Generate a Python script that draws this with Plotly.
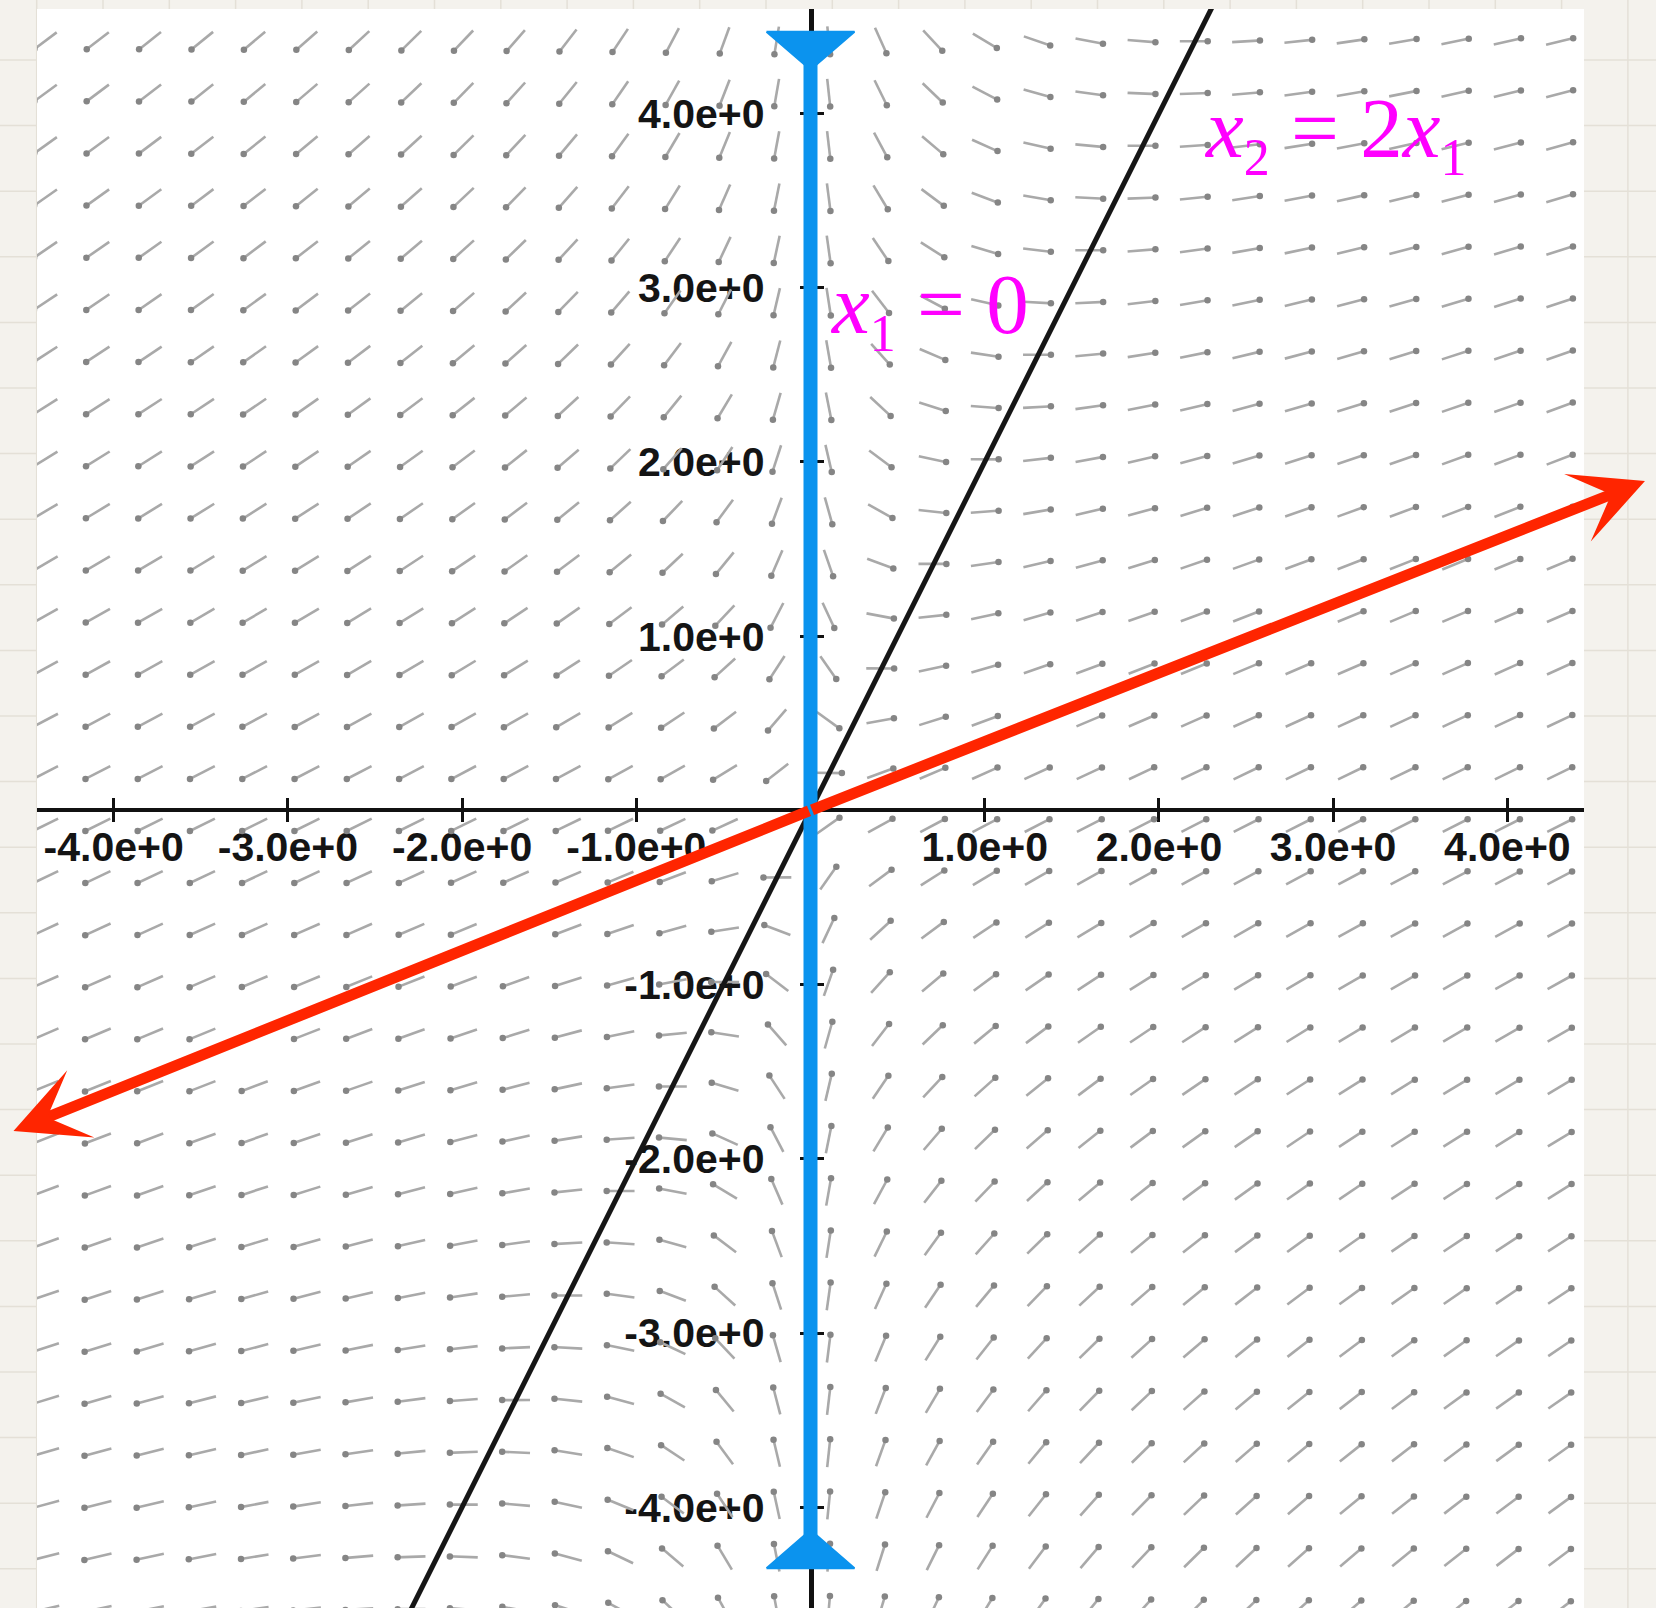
import math
import numpy as np
import plotly.graph_objects as go

# ---------------- data ----------------
# linear system x' = A x behind the direction field
# (nullclines x1 = 0 and x2 = 2 x1, unstable eigen-direction (5, 2))
A = [[4.0, 0.0],
     [2.0, -1.0]]

# direction-field grid (arrow centres)
field_x0, field_y0, field_step, field_n = 0.105, 0.215, 0.3, 16
arrow_len = 0.17

tick_vals = [-4, -3, -2, -1, 1, 2, 3, 4]
x_tick_text = ["-4.0e+0", "-3.0e+0", "-2.0e+0", "-1.0e+0", "1.0e+0", "2.0e+0", "3.0e+0", "4.0e+0"]
y_tick_text = ["-4.0e+0", "-3.0e+0", "-2.0e+0", "-1.0e+0", "1.0e+0", "2.0e+0", "3.0e+0", "4.0e+0"]

# nullcline x2 = 2 x1 (black)
null2_x = [-2.4, 2.4]
null2_y = [-4.8, 4.8]

# nullcline x1 = 0 (blue) with end arrowheads
null1_x = [0.0, 0.0]
null1_y = [4.47, -4.35]

# eigen-direction (red double arrow), tips
red_tip_right = (4.79, 1.89)
red_tip_left = (-4.575, -1.84)

# labels
label1_text = "<i>x</i><sub><span style='font-size:52px'>1</span></sub> = 0"
label1_pos = (0.10, 2.56)
label2_text = ("<i>x</i><sub><span style='font-size:52px'>2</span></sub> = "
               "2<i>x</i><sub><span style='font-size:52px'>1</span></sub>")
label2_pos = (2.25, 3.57)

# ---------------- layout constants ----------------
W, H = 1656, 1608
ML, MR, MT, MB = 37, 72, 9, 0
x_range = [-4.44, 4.44]
pw, ph = W - ML - MR, H - MT - MB
ppu = pw / (x_range[1] - x_range[0])
y_top = 4.60
y_range = [y_top - ph / ppu, y_top]

x_axis_pos = (0 - y_range[0]) / (y_range[1] - y_range[0])
y_axis_pos = (0 - x_range[0]) / (x_range[1] - x_range[0])

fig = go.Figure()

# ---------------- direction field ----------------
Am = np.array(A)
seg_x, seg_y, head_x, head_y = [], [], [], []
for i in range(-field_n, field_n):
    for j in range(-field_n, field_n):
        cx = field_x0 + field_step * i
        cy = field_y0 + field_step * j
        v = Am @ np.array([cx, cy])
        n = np.hypot(*v)
        if n == 0:
            continue
        ux, uy = v / n
        tx, ty = cx - ux * arrow_len / 2, cy - uy * arrow_len / 2
        hx, hy = cx + ux * arrow_len / 2, cy + uy * arrow_len / 2
        seg_x += [tx, hx, None]
        seg_y += [ty, hy, None]
        head_x.append(hx - ux * 0.01)
        head_y.append(hy - uy * 0.01)

fig.add_trace(go.Scatter(x=seg_x, y=seg_y, mode="lines",
                         line=dict(color="#a9a9a9", width=2.6),
                         hoverinfo="skip", showlegend=False))
fig.add_trace(go.Scatter(x=head_x, y=head_y, mode="markers",
                         marker=dict(symbol="circle", size=6.5, color="#858585",
                                     line=dict(width=0)),
                         hoverinfo="skip", showlegend=False))

# black nullcline
fig.add_trace(go.Scatter(x=null2_x, y=null2_y, mode="lines",
                         line=dict(color="#161616", width=5),
                         hoverinfo="skip", showlegend=False))

# blue nullcline with arrowheads (tips pointing toward the origin)
blue = "#0b93ee"
fig.add_trace(go.Scatter(x=null1_x, y=null1_y, mode="lines",
                         line=dict(color=blue, width=14),
                         hoverinfo="skip", showlegend=False))
hw, hh = 44 / ppu, 38 / ppu
top, bot = null1_y[0], null1_y[1]
fig.add_trace(go.Scatter(x=[null1_x[0] - hw, null1_x[0] + hw, null1_x[0], null1_x[0] - hw],
                         y=[top, top, top - hh, top],
                         mode="lines", fill="toself", fillcolor=blue,
                         line=dict(color=blue, width=2),
                         hoverinfo="skip", showlegend=False))
fig.add_trace(go.Scatter(x=[null1_x[1] - hw, null1_x[1] + hw, null1_x[1], null1_x[1] - hw],
                         y=[bot, bot, bot + hh, bot],
                         mode="lines", fill="toself", fillcolor=blue,
                         line=dict(color=blue, width=2),
                         hoverinfo="skip", showlegend=False))

# dummy trace for the overlay axes (crossing tick marks)
fig.add_trace(go.Scatter(x=[None], y=[None], xaxis="x2", yaxis="y2",
                         showlegend=False, hoverinfo="skip"))

# ---------------- annotations ----------------
red = "#ff2500"
annotations = []
for tip in (red_tip_right, red_tip_left):
    annotations.append(dict(x=tip[0], y=tip[1], ax=0, ay=0, xref="x", yref="y",
                            axref="x", ayref="y", text="", showarrow=True,
                            arrowhead=3, arrowsize=1.1, arrowwidth=11,
                            arrowcolor=red, standoff=0, startstandoff=0))
mag_font = dict(family="Liberation Serif, Times New Roman, serif", size=85, color="#ff00ff")
annotations.append(dict(x=label1_pos[0], y=label1_pos[1], xref="x", yref="y",
                        text=label1_text, showarrow=False, xanchor="left",
                        yanchor="bottom", font=mag_font))
annotations.append(dict(x=label2_pos[0], y=label2_pos[1], xref="x", yref="y",
                        text=label2_text, showarrow=False, xanchor="left",
                        yanchor="bottom", font=mag_font))

# ---------------- background paper grid ----------------
shapes = []
def px2paper_x(px):
    return (px - ML) / pw
def py2paper_y(py):
    return (H - MB - py) / ph
grid_col = "#e4e0d7"
for k in range(-1, 26):
    py = 60 + 65.6 * k
    shapes.append(dict(type="line", xref="paper", yref="paper",
                       x0=px2paper_x(0), x1=px2paper_x(W), y0=py2paper_y(py), y1=py2paper_y(py),
                       line=dict(color=grid_col, width=1.5), layer="below"))
for k in range(-2, 26):
    px = 103 + 66.3 * k
    shapes.append(dict(type="line", xref="paper", yref="paper",
                       x0=px2paper_x(px), x1=px2paper_x(px), y0=py2paper_y(H), y1=py2paper_y(0),
                       line=dict(color=grid_col, width=1.5), layer="below"))
shapes.append(dict(type="rect", xref="paper", yref="paper", x0=0, x1=1, y0=0, y1=1,
                   fillcolor="white", line=dict(width=0), layer="below"))

tick_font = dict(family="Liberation Sans, Arial, sans-serif", size=41, color="#141414",
                 weight="bold")

fig.update_layout(
    width=W, height=H,
    margin=dict(l=ML, r=MR, t=MT, b=MB, pad=0),
    paper_bgcolor="#f4f2ed",
    plot_bgcolor="rgba(0,0,0,0)",
    showlegend=False,
    annotations=annotations,
    shapes=shapes,
    xaxis=dict(range=x_range, anchor="free", position=x_axis_pos,
               showgrid=False, zeroline=False, showline=True,
               linecolor="#111", linewidth=3.5,
               tickvals=tick_vals, ticktext=x_tick_text,
               ticks="inside", ticklen=11, tickwidth=2.5, tickcolor="#111",
               ticklabelstandoff=0,
               tickfont=tick_font, layer="below traces", fixedrange=True),
    yaxis=dict(range=y_range, anchor="free", position=y_axis_pos,
               showgrid=False, zeroline=False, showline=True,
               linecolor="#111", linewidth=4.5,
               tickvals=tick_vals, ticktext=y_tick_text,
               ticks="inside", ticklen=11, tickwidth=2.5, tickcolor="#111",
               ticklabelstandoff=36,
               tickfont=tick_font, layer="below traces", fixedrange=True),
    xaxis2=dict(range=x_range, overlaying="x", anchor="free", position=x_axis_pos,
                showgrid=False, zeroline=False, showline=False,
                tickvals=tick_vals, ticks="outside", ticklen=11, tickwidth=2.5,
                tickcolor="#111", showticklabels=False, layer="below traces"),
    yaxis2=dict(range=y_range, overlaying="y", anchor="free", position=y_axis_pos,
                showgrid=False, zeroline=False, showline=False,
                tickvals=tick_vals, ticks="outside", ticklen=11, tickwidth=2.5,
                tickcolor="#111", showticklabels=False, layer="below traces"),
)

fig.write_html("out.html", config={"displayModeBar": False},
               post_script="document.body.style.margin='0';")
